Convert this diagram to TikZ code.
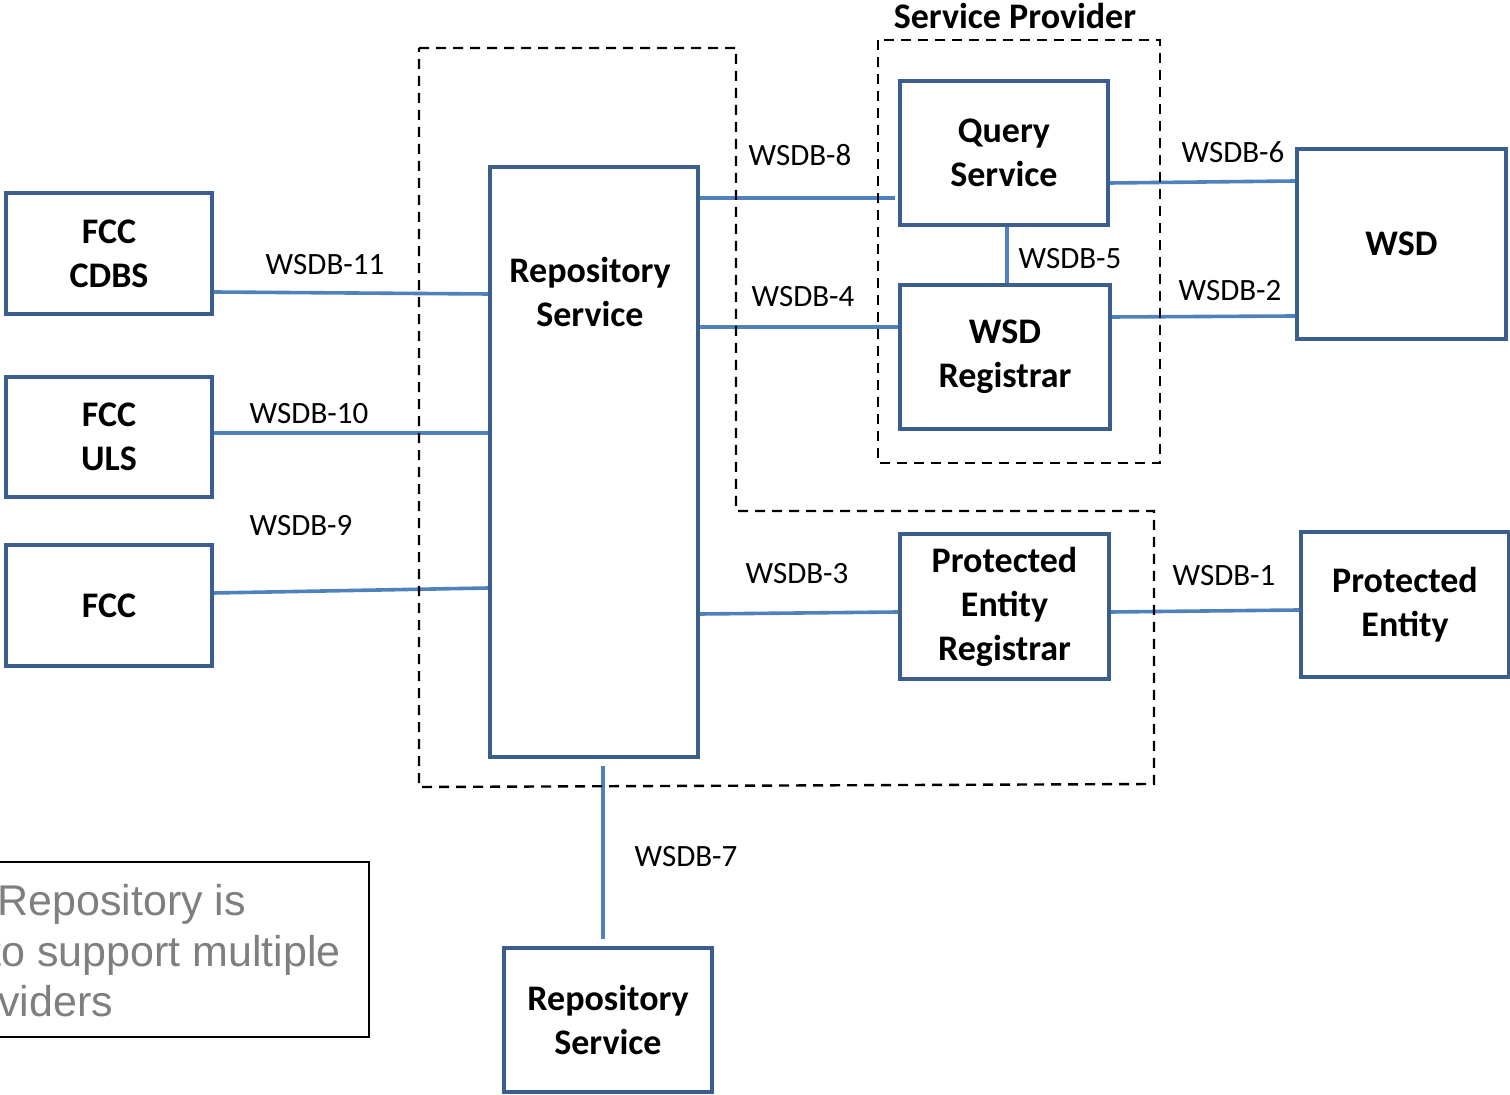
\documentclass[tikz,border=0pt]{standalone}
\usepackage{fontspec}
\setmainfont{Carlito}
\newfontfamily\notefont{Liberation Sans}

\definecolor{boxblue}{HTML}{3B5E8C}
\definecolor{lineblue}{HTML}{4F81BD}
\definecolor{notegray}{HTML}{7F7F7F}

\begin{document}
\begin{tikzpicture}[x=0.5pt,y=-0.5pt,%
					box/.style={draw=boxblue,line width=1.8pt,align=center,inner sep=0pt,%
						font=\fontsize{18}{22}\selectfont\bfseries},%
					link/.style={draw=lineblue,line width=1.8pt},%
					iface/.style={inner sep=0pt,font=\fontsize{15.5}{18}\selectfont},%
					group/.style={draw=black,line width=1.2pt,dash pattern=on 5pt off 3.5pt}]
\useasboundingbox (0,0) rectangle (1510,1095);
\clip (0,0) rectangle (1510,1095);

% boxes: name/x/y/width/height/text
\foreach \n/\x/\y/\w/\h/\t in {cdbs/109/253.5/206/121/{FCC\\CDBS},uls/109/437/206/120/{FCC\\ULS},%
		fcc/109/605.5/206/121/FCC,repo/594/462/208/590/{},query/1004/153/208/144/{Query\\Service},%
		wsdreg/1005/357/210/144/{WSD\\Registrar},wsd/1401.5/244/209/190/WSD,%
		pereg/1004.5/606.5/209/145/{Protected\\Entity\\Registrar},pe/1405/604.5/208/145/{Protected\\Entity},%
		repo2/608/1020/208/144/{Repository\\Service}}
	\node [box,minimum width=\w*0.5pt,minimum height=\h*0.5pt] (\n) at (\x,\y) {\t};

\node [box,draw=none] (repotxt) at (590,292) {Repository\\Service};

% interfaces
\draw [link] (cdbs.east |- 0,292) -- (repo.west |- 0,294);
\draw [link] (uls.east |- 0,433) -- (repo.west |- 0,433);
\draw [link] (fcc.east |- 0,593) -- (repo.west |- 0,588);
\draw [link] (repo.east |- 0,198) -- ([xshift=-1.5pt]query.west |- 0,198);
\draw [link] (repo.east |- 0,327) -- (wsdreg.west |- 0,327);
\draw [link] (repo.east |- 0,614) -- (pereg.west |- 0,612);
\draw [link] (query.south -| 1007,0) -- (wsdreg.north -| 1007,0);
\draw [link] (query.east |- 0,183) -- (wsd.west |- 0,181);
\draw [link] (wsdreg.east |- 0,317) -- (wsd.west |- 0,316);
\draw [link] (pereg.east |- 0,612) -- (pe.west |- 0,610);
\draw [link,shorten <=3.5pt,shorten >=3.5pt] (repo.south -| 603,0) -- (repo2.north -| 603,0);

\foreach \n/\x/\y/\t in {w11/325/265/WSDB-11,w10/309/414/WSDB-10,w9/301/526/WSDB-9,%
		w8/800/155/WSDB-8,w4/803/297/WSDB-4,w3/797/574/WSDB-3,w5/1070/259/WSDB-5,%
		w6/1233/152/WSDB-6,w2/1230/291/WSDB-2,w1/1224/576/WSDB-1,w7/686/857/WSDB-7}
	\node [iface] (\n) at (\x,\y) {\t};

% dashed groups
\draw [group] (419,48) -- (736,48) -- (736,511) -- (1154,511) -- (1154,784) -- (419,787) -- cycle;
\draw [group] (878,40) rectangle (1160,463);
\node [font=\fontsize{18}{22}\selectfont\bfseries] (sp) at (1015,16) {Service Provider};

% note, cut off at the left
\draw [line width=1pt] (-20,862) rectangle (369,1037);
\foreach \n/\x/\y/\t in {note1/-3/915/{Repository is},note2/-11/966/{to support multiple},note3/-2/1016/viders}
	\node [anchor=base west,inner sep=0pt,text=notegray,font=\notefont\fontsize{21.5}{26}\selectfont] (\n) at (\x,\y) {\t};
\end{tikzpicture}
\end{document}
